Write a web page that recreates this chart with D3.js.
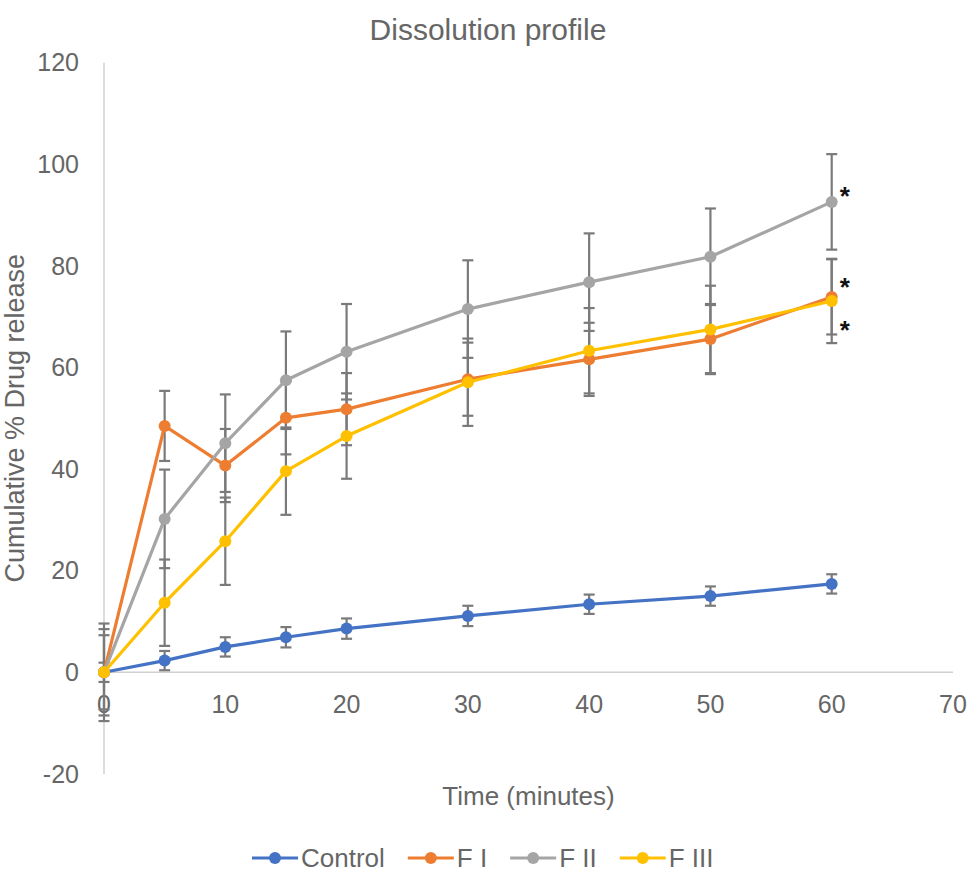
<!DOCTYPE html>
<meta charset="utf-8">
<script src="https://d3js.org/d3.v7.min.js"></script>
<style>
  body { margin: 0; background: #fff; }
  text { font-family: "Liberation Sans", Arial, sans-serif; fill: #666; }
</style>
<div id="chart"></div>
<script>

// time points (minutes)
var times = [0, 5, 10, 15, 20, 30, 40, 50, 60];

// cumulative % drug release, one array per formulation
var control  = [0, 2.3, 5.0, 6.9, 8.6, 11.1, 13.4, 15.0, 17.4];
var fOne     = [0, 48.5, 40.7, 50.1, 51.8, 57.7, 61.6, 65.6, 73.9];
var fTwo     = [0, 30.2, 45.1, 57.5, 63.1, 71.5, 76.8, 81.8, 92.6];
var fThree   = [0, 13.7, 25.8, 39.6, 46.5, 57.1, 63.3, 67.5, 73.1];

// standard deviation (error bars)
var controlErr = [1.9, 1.9, 1.9, 2.0, 2.0, 2.0, 1.9, 1.9, 1.9];
var fOneErr    = [7.3, 6.9, 7.2, 7.2, 7.1, 7.2, 7.2, 6.9, 7.4];
var fTwoErr    = [9.6, 9.7, 9.6, 9.6, 9.4, 9.6, 9.6, 9.5, 9.4];
var fThreeErr  = [8.5, 8.5, 8.6, 8.6, 8.4, 8.6, 8.4, 8.6, 8.3];

var seriesNames = ["Control", "F I", "F II", "F III"];
var xTicks = [0, 10, 20, 30, 40, 50, 60, 70];
var yTicks = [-20, 0, 20, 40, 60, 80, 100, 120];

// significance marks at the last time point
var starSeries = ["F II", "F I", "F III"];

var colors = ["#4472C4", "#ED7D31", "#A5A5A5", "#FFC000"];
var values = [control, fOne, fTwo, fThree];
var errs = [controlErr, fOneErr, fTwoErr, fThreeErr];

var series = seriesNames.map(function(name, i) {
  return {
    name: name,
    color: colors[i],
    points: times.map(function(t, j) { return {t: t, v: values[i][j], e: errs[i][j]}; })
  };
});

var W = 976, H = 872;
var svg = d3.select("#chart").append("svg")
  .attr("width", W).attr("height", H);

var x = d3.scaleLinear().domain([0, 70]).range([104, 953]);
var y = d3.scaleLinear().domain([-20, 120]).range([773.9, 62.7]);

// title
svg.append("text")
  .attr("x", 488).attr("y", 40)
  .attr("text-anchor", "middle")
  .style("font-size", "30px")
  .text("Dissolution profile");

// y axis line + labels
svg.append("line")
  .attr("x1", x(0)).attr("x2", x(0))
  .attr("y1", y(120)).attr("y2", y(-20))
  .attr("stroke", "#d0d0d0").attr("stroke-width", 1.5);

svg.append("g").selectAll("text")
  .data(yTicks).enter().append("text")
  .attr("x", 79).attr("y", function(d) { return y(d); })
  .attr("dy", "0.35em")
  .attr("text-anchor", "end")
  .style("font-size", "25px")
  .text(function(d) { return d; });

// x axis line at zero + labels
svg.append("line")
  .attr("x1", x(0)).attr("x2", x(70))
  .attr("y1", y(0)).attr("y2", y(0))
  .attr("stroke", "#d0d0d0").attr("stroke-width", 1.5);

svg.append("g").selectAll("text")
  .data(xTicks).enter().append("text")
  .attr("x", function(d) { return x(d); })
  .attr("y", 704)
  .attr("dy", "0.35em")
  .attr("text-anchor", "middle")
  .style("font-size", "25px")
  .text(function(d) { return d; });

// axis titles
svg.append("text")
  .attr("x", (x(0) + x(70)) / 2).attr("y", 796)
  .attr("dy", "0.35em")
  .attr("text-anchor", "middle")
  .style("font-size", "26px")
  .text("Time (minutes)");

svg.append("text")
  .attr("transform", "translate(24," + ((y(120) + y(-20)) / 2) + ") rotate(-90)")
  .attr("text-anchor", "middle")
  .style("font-size", "27px")
  .text("Cumulative % Drug release");

// error bars
var eb = svg.append("g").attr("stroke", "#7a7a7a").attr("stroke-width", 2.2);
series.forEach(function(s) {
  var g = eb.selectAll(null).data(s.points).enter().append("g");
  g.append("line")
    .attr("x1", function(d) { return x(d.t); }).attr("x2", function(d) { return x(d.t); })
    .attr("y1", function(d) { return y(d.v + d.e); }).attr("y2", function(d) { return y(d.v - d.e); });
  [1, -1].forEach(function(sign) {
    g.append("line")
      .attr("x1", function(d) { return x(d.t) - 5.5; }).attr("x2", function(d) { return x(d.t) + 5.5; })
      .attr("y1", function(d) { return y(d.v + sign * d.e); }).attr("y2", function(d) { return y(d.v + sign * d.e); });
  });
});

// lines and markers
var line = d3.line().x(function(d) { return x(d.t); }).y(function(d) { return y(d.v); });
series.forEach(function(s) {
  svg.append("path")
    .datum(s.points)
    .attr("d", line)
    .attr("fill", "none")
    .attr("stroke", s.color)
    .attr("stroke-width", 3.2)
    .attr("stroke-linejoin", "round");
  svg.append("g").selectAll("circle")
    .data(s.points).enter().append("circle")
    .attr("cx", function(d) { return x(d.t); })
    .attr("cy", function(d) { return y(d.v); })
    .attr("r", 6)
    .attr("fill", s.color);
});

// asterisks
var starOffset = {"F II": -11, "F I": -15, "F III": 24};
starSeries.forEach(function(name) {
  var s = series.filter(function(d) { return d.name === name; })[0];
  var last = s.points[s.points.length - 1];
  svg.append("text")
    .attr("x", x(last.t) + 13)
    .attr("y", y(last.v) + starOffset[name] + 14)
    .attr("text-anchor", "middle")
    .style("font-size", "26px")
    .style("font-weight", "bold")
    .style("fill", "#111")
    .text("*");
});

// legend
var lx = 252, ly = 858;
series.forEach(function(s) {
  var g = svg.append("g").attr("transform", "translate(" + lx + "," + ly + ")");
  g.append("line").attr("x1", 0).attr("x2", 46).attr("y1", 0).attr("y2", 0)
    .attr("stroke", s.color).attr("stroke-width", 3.2);
  g.append("circle").attr("cx", 23).attr("cy", 0).attr("r", 6).attr("fill", s.color);
  var t = g.append("text").attr("x", 49).attr("dy", "0.35em")
    .style("font-size", "26px").text(s.name);
  lx += 49 + t.node().getComputedTextLength() + 23;
});

</script>
